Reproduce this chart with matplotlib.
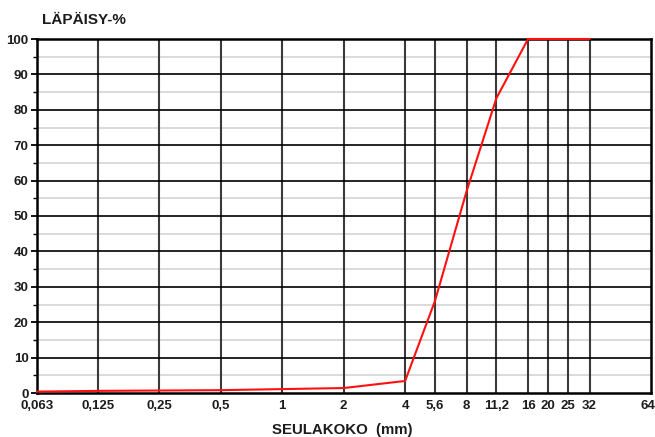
#!/usr/bin/env python3
import numpy as np
import matplotlib
matplotlib.use("Agg")
import matplotlib.pyplot as plt
import matplotlib.transforms as mtrans
from matplotlib.ticker import FixedLocator, NullFormatter

plt.rcParams['font.family'] = ['Liberation Sans', 'DejaVu Sans']

# --- Data ---
sieves = [0.063, 0.125, 0.25, 0.5, 1, 2, 4, 5.6, 8, 11.2, 16, 20, 25, 32]
passing = [0.4, 0.6, 0.7, 0.8, 1.1, 1.4, 3.4, 26, 57, 83.3, 100, 100, 100, 100]

tick_vals = [0.063, 0.125, 0.25, 0.5, 1, 2, 4, 5.6, 8, 11.2, 16, 20, 25, 32, 64]
tick_labels = ["0,063", "0,125", "0,25", "0,5", "1", "2", "4", "5,6", "8",
               "11,2", "16", "20", "25", "32", "64"]

W, H = 655, 437
fig = plt.figure(figsize=(W / 100, H / 100), dpi=100)
# plot area in pixels: left 37, right 651, top 39, bottom 393
ax = fig.add_axes([37 / W, 1 - 393 / H, (651 - 37) / W, (393 - 39) / H])

ax.set_xscale("log")
ax.set_xlim(0.063, 64)
ax.set_ylim(0, 100)

# grid: vertical lines at sieve sizes
for v in tick_vals[1:-1]:
    ax.axvline(v, color="#3a3a3a", lw=1.5, zorder=1)
for yv in range(10, 100, 10):
    ax.axhline(yv, color="black", lw=1.2, zorder=1)
for yv in range(5, 100, 10):
    ax.axhline(yv, color="#d4d4d4", lw=1.2, zorder=0)

ax.plot(sieves, passing, color="#ff1010", lw=1.5, zorder=3, clip_on=False)

ax.xaxis.set_major_locator(FixedLocator(tick_vals))
ax.set_xticklabels(tick_labels)
ax.xaxis.set_minor_locator(FixedLocator([]))
ax.xaxis.set_minor_formatter(NullFormatter())
ax.tick_params(axis="x", length=0, pad=5, labelsize=9.5)

ax.set_yticks(np.arange(0, 101, 10))
ax.set_yticks(np.arange(5, 100, 10), minor=True)
ax.tick_params(axis="y", which="major", length=4, width=1.3, pad=2, labelsize=9.5)
ax.tick_params(axis="y", which="minor", length=3, width=1.0)

for lab in ax.get_xticklabels() + ax.get_yticklabels():
    lab.set_fontweight("bold")
    lab.set_color("#1c1c1c")

# keep the last x label inside the figure
last = ax.get_xticklabels()[-1]
last.set_transform(last.get_transform() +
                   mtrans.ScaledTranslation(-3 / 100, 0, fig.dpi_scale_trans))

for sp in ax.spines.values():
    sp.set_linewidth(1.8)
    sp.set_color("black")

fig.text(42 / W, 1 - 20 / H, "LÄPÄISY-%", fontsize=11, fontweight="bold",
         color="#1c1c1c", va="center", ha="left")
fig.text(342 / W, 1 - 430 / H, "SEULAKOKO  (mm)", fontsize=10.8, fontweight="bold",
         color="#1c1c1c", va="center", ha="center")

fig.savefig("out.png", dpi=100)
